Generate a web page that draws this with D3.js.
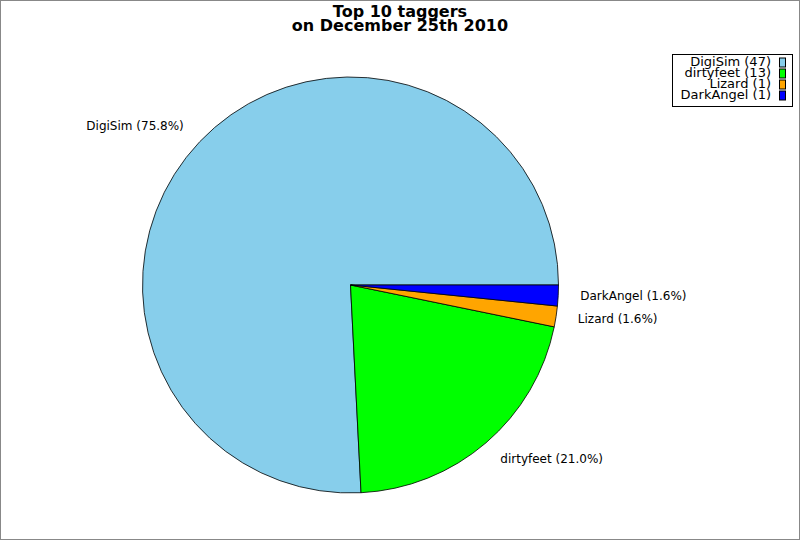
<!DOCTYPE html>
<html>
<head>
<meta charset="utf-8">
<script src="https://cdn.jsdelivr.net/npm/d3@7"></script>
<style>
  body { margin: 0; background: #fff; }
  svg { display: block; font-family: "DejaVu Sans", sans-serif; }
</style>
</head>
<body>
<div id="chart"></div>
<script>
// taggers and their tag counts
const names = ['DigiSim', 'dirtyfeet', 'Lizard', 'DarkAngel'];
const counts = [47, 13, 1, 1];
const colors = ['#87ceeb', '#00ff00', '#ffa500', '#0000ff'];
const titleLines = ['Top 10 taggers', 'on December 25th 2010'];

const width = 800, height = 540;
const cx = 350.5, cy = 285, radius = 208;

const svg = d3.select('#chart').append('svg')
    .attr('width', width)
    .attr('height', height);

// frame
svg.append('rect')
    .attr('x', 0.5).attr('y', 0.5)
    .attr('width', width - 1).attr('height', height - 1)
    .attr('fill', '#fff')
    .attr('stroke', '#888');

// title
svg.append('text')
    .attr('x', 400).attr('y', 17)
    .attr('text-anchor', 'middle')
    .attr('font-size', 16).attr('font-weight', 'bold')
    .selectAll('tspan')
    .data(titleLines)
    .enter().append('tspan')
        .attr('x', 400)
        .attr('dy', (d, i) => i ? 13.5 : 0)
        .text(d => d);

const total = d3.sum(counts);
const color = d3.scaleOrdinal().domain(names).range(colors);

// start at 3 o'clock and go counter-clockwise
const pie = d3.pie().sort(null)
    .startAngle(Math.PI / 2)
    .endAngle(Math.PI / 2 - 2 * Math.PI);

const arcs = pie(counts);
const arc = d3.arc().innerRadius(0).outerRadius(radius);
const labelArc = d3.arc().innerRadius(230).outerRadius(230);

const g = svg.append('g').attr('transform', 'translate(' + cx + ',' + cy + ')');

g.selectAll('path')
    .data(arcs)
    .enter().append('path')
        .attr('d', arc)
        .attr('fill', (d, i) => color(names[i]))
        .attr('stroke', '#000')
        .attr('stroke-width', 0.8);

g.selectAll('text.lbl')
    .data(arcs)
    .enter().append('text')
        .attr('class', 'lbl')
        .attr('font-size', 12)
        .attr('dominant-baseline', 'middle')
        .attr('transform', d => 'translate(' + labelArc.centroid(d) + ')')
        .attr('text-anchor', d => labelArc.centroid(d)[0] < 0 ? 'end' : 'start')
        .text((d, i) => names[i] + ' (' + (counts[i] / total * 100).toFixed(1) + '%)');

// legend
const legend = svg.append('g');
legend.append('rect')
    .attr('x', 672.5).attr('y', 54.5)
    .attr('width', 120).attr('height', 52)
    .attr('fill', '#fff').attr('stroke', '#000');

const row = d3.scaleBand().domain(names).range([57, 101]);

legend.selectAll('text')
    .data(names)
    .enter().append('text')
        .attr('x', 771)
        .attr('y', d => row(d) + row.bandwidth() / 2)
        .attr('dominant-baseline', 'middle')
        .attr('text-anchor', 'end')
        .attr('font-size', 13)
        .text((d, i) => d + ' (' + counts[i] + ')');

legend.selectAll('rect.sw')
    .data(names)
    .enter().append('rect')
        .attr('class', 'sw')
        .attr('x', 779.5)
        .attr('y', d => row(d) + row.bandwidth() / 2 - 4.5)
        .attr('width', 6).attr('height', 9)
        .attr('fill', d => color(d))
        .attr('stroke', '#000');
</script>
</body>
</html>
